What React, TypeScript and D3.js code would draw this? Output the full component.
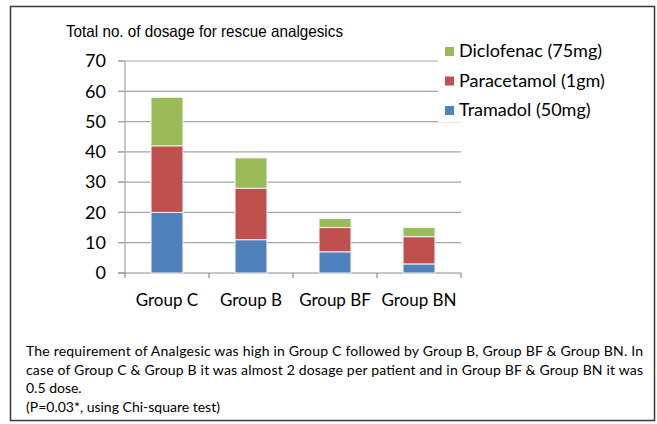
import * as d3 from 'd3';
import React from 'react';

// data
const groups = ['Group C', 'Group B', 'Group BF', 'Group BN'];
const seriesNames = ['Tramadol (50mg)', 'Paracetamol (1gm)', 'Diclofenac (75mg)'];
const tramadol = [20, 11, 7, 3];
const paracetamol = [22, 17, 8, 9];
const diclofenac = [16, 10, 3, 3];
const yTicks = [0, 10, 20, 30, 40, 50, 60, 70];
const colors = ['#4f81bd', '#c0504d', '#9bbb59'];

const noteLines = [
    'The requirement of Analgesic was high in Group C followed by Group B, Group BF & Group BN. In',
    'case of Group C & Group B it was almost 2 dosage per patient and in Group BF & Group BN it was',
    '0.5 dose.',
    '(P=0.03*, using Chi-square test)',
];

function App() {
    const width = 657;
    const height = 424;

    const x = d3.scaleBand().domain(groups).range([125, 461]).paddingInner(0.62).paddingOuter(0.31);
    const y = d3.scaleLinear().domain([0, 70]).range([273, 61]);

    const rows = groups.map((g, i) => ({
        group: g,
        Tramadol: tramadol[i],
        Paracetamol: paracetamol[i],
        Diclofenac: diclofenac[i],
    }));
    const stack = d3.stack().keys(['Tramadol', 'Paracetamol', 'Diclofenac']);
    const layers = stack(rows as any);

    const boundaries = d3.range(groups.length + 1).map(i => 125 + i * (336 / groups.length));

    const legendItems = [
        { name: seriesNames[2], color: colors[2] },
        { name: seriesNames[1], color: colors[1] },
        { name: seriesNames[0], color: colors[0] },
    ];

    return (
        <svg width={width} height={height}
             style={{ position: 'absolute', left: 0, top: 0, background: '#fff' }}>
            <rect x={10.5} y={6.5} width={644} height={414} fill="#fff" stroke="#3a3a3a" strokeWidth={1.5} />

            <text x={66} y={37} fontFamily="'Liberation Sans', Arial, sans-serif" fontSize={16.5}
                  fill="#000" textLength={277} lengthAdjust="spacingAndGlyphs">
                Total no. of dosage for rescue analgesics
            </text>

            {/* gridlines */}
            {yTicks.map(t => (
                <g key={t}>
                    {t > 0 && <line x1={118} x2={461} y1={y(t)} y2={y(t)} stroke="#a6a6a6" strokeWidth={1.2} />}
                    <line x1={118} x2={125} y1={y(t)} y2={y(t)} stroke="#a6a6a6" strokeWidth={1.2} />
                    <text x={106} y={y(t)} dy="0.35em" textAnchor="end" fontFamily="Lato, 'Open Sans', sans-serif"
                          fontSize={18} fill="#000">{t}</text>
                </g>
            ))}

            <line x1={125} x2={125} y1={y(70)} y2={y(0)} stroke="#a6a6a6" strokeWidth={1.2} />
            <line x1={118} x2={461} y1={y(0)} y2={y(0)} stroke="#8c8c8c" strokeWidth={1.2} />
            {boundaries.map((b, i) => (
                <line key={i} x1={b} x2={b} y1={y(0)} y2={y(0) + 5} stroke="#8c8c8c" strokeWidth={1.2} />
            ))}

            {/* bars */}
            {layers.map((layer, li) => (
                <g key={li} fill={colors[li]}>
                    {layer.map((d, i) => (
                        <rect key={i} x={x(groups[i])} y={y(d[1])} width={x.bandwidth()}
                              height={y(d[0]) - y(d[1])} stroke="#f2f2f2" strokeWidth={1} />
                    ))}
                </g>
            ))}

            {groups.map(g => (
                <text key={g} x={(x(g) as number) + x.bandwidth() / 2} y={306} textAnchor="middle"
                      fontFamily="Lato, 'Open Sans', sans-serif" fontSize={17} fill="#000">{g}</text>
            ))}

            {/* legend overlays the plot */}
            <rect x={438} y={38} width={175} height={84} fill="#fff" />
            {legendItems.map((item, i) => (
                <g key={item.name} transform={`translate(445, ${51 + i * 29.5})`}>
                    <rect x={0} y={-4} width={9} height={9} fill={item.color} />
                    <text x={14} y={0} dy="0.35em" fontFamily="Lato, 'Open Sans', sans-serif" fontSize={18}
                          fill="#000">{item.name}</text>
                </g>
            ))}

            {noteLines.map((line, i) => (
                <text key={i} x={26} y={356 + i * 18.7} fontFamily="Lato, 'Open Sans', sans-serif" fontSize={14}
                      fill="#000"
                      {...(i < 2 ? { textLength: 617, lengthAdjust: 'spacing' } : {})}>{line}</text>
            ))}
        </svg>
    );
}

export default App;
